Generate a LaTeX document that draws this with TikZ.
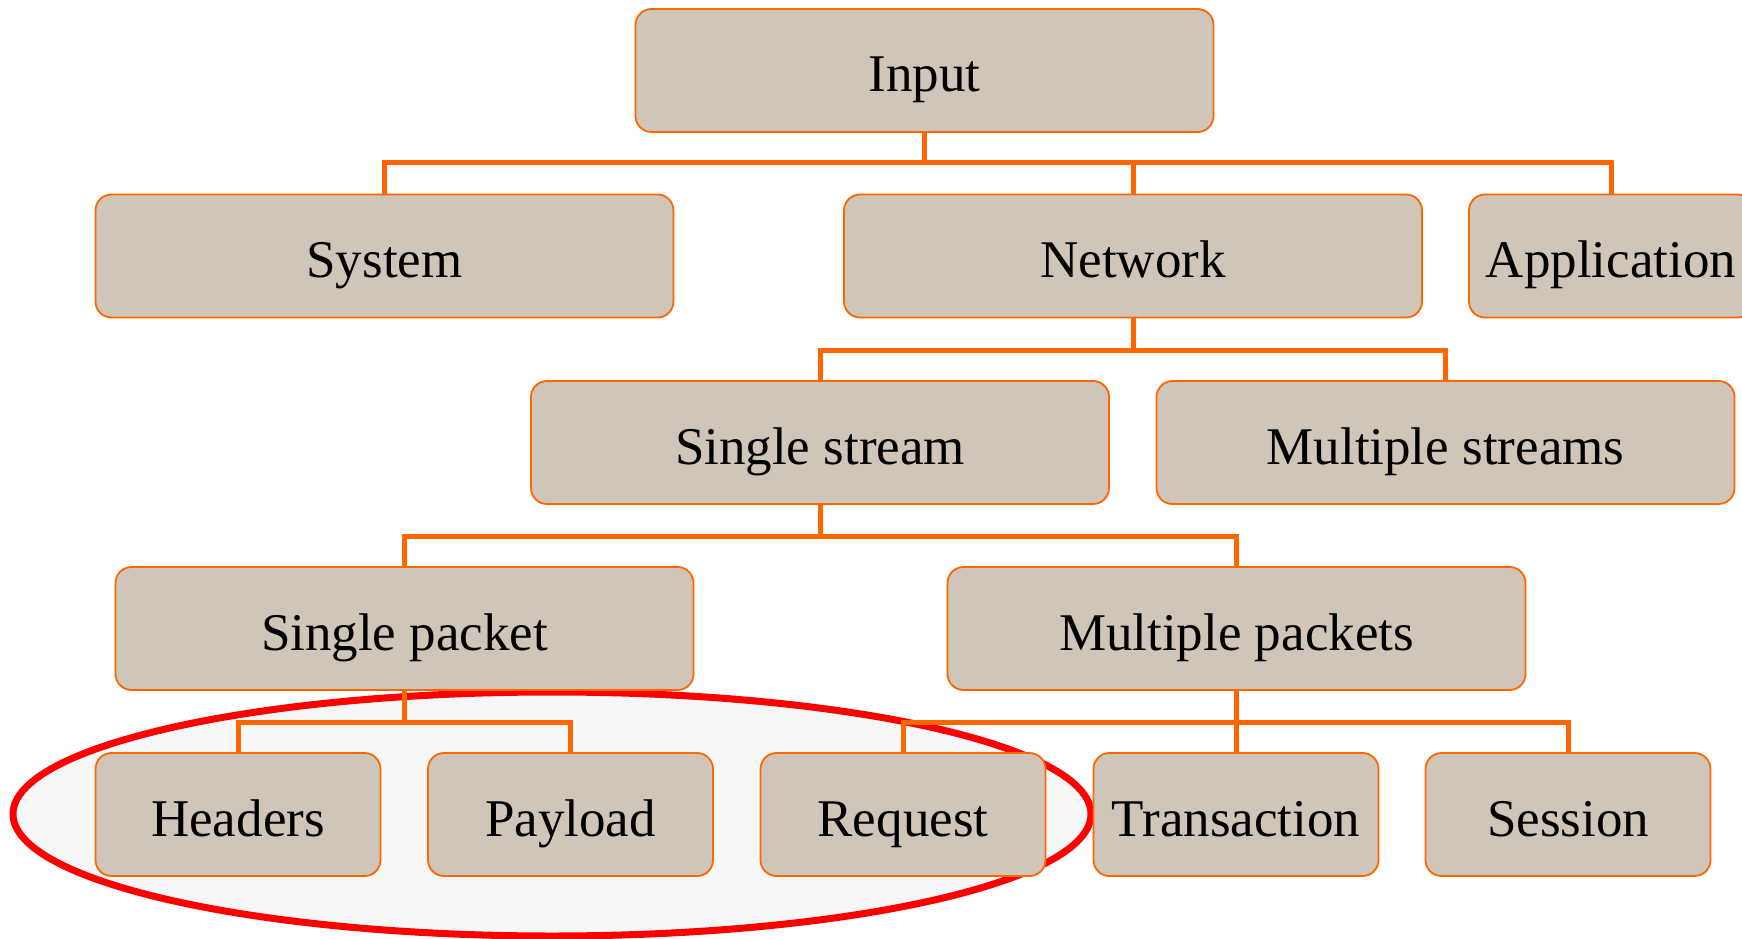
\documentclass[tikz,border=0pt]{standalone}
\usepackage{fontspec}
\setmainfont{Liberation Serif}
\definecolor{boxfill}{HTML}{CFC5B8}
\definecolor{linkorange}{HTML}{FF6600}
\definecolor{haze}{HTML}{F7F7F7}
\tikzset{
  box/.style={draw=linkorange, line width=1.8pt, fill=boxfill, rounded corners=16pt,
    minimum width=578pt, minimum height=123pt, inner sep=0pt,
    font=\fontsize{53}{60}\selectfont, text height=43pt, text depth=0pt},
  small/.style={box, minimum width=285pt},
  link/.style={draw=linkorange, line width=5pt},
  ring/.style={draw=red, line width=7pt, fill=haze}
}
\begin{document}
\begin{tikzpicture}[x=1pt,y=-1pt]
\useasboundingbox (0,0) rectangle (1742,939);

% highlighted group of packet-level inputs
\path[ring] (552,814) ellipse [x radius=539pt, y radius=122pt];

% tree nodes
\node[box] (input) at (924.5,70.5) {Input};
\node[box] (system) at (384.5,256) {System};
\node[box] (network) at (1133,256) {Network};
\node[box, minimum width=284pt] (application) at (1611,256) {Application};
\node[box] (sstream) at (820,442.5) {Single stream};
\node[box] (mstream) at (1445.5,442.5) {Multiple streams};
\node[box] (spacket) at (404.5,628.5) {Single packet};
\node[box] (mpacket) at (1236.5,628.5) {Multiple packets};
\node[small] (headers) at (238,814.5) {Headers};
\node[small] (payload) at (570.5,814.5) {Payload};
\node[small] (request) at (903,814.5) {Request};
\node[small] (transaction) at (1236,814.5) {Transaction};
\node[small] (session) at (1568,814.5) {Session};

% elbow connectors
\foreach \c in {system,network,application}
  \draw[link] (input.south) -- ++(0,30) -| (\c.north);
\foreach \c in {sstream,mstream}
  \draw[link] (network.south) -- ++(0,32) -| (\c.north);
\foreach \c in {spacket,mpacket}
  \draw[link] (sstream.south) -- ++(0,31.5) -| (\c.north);
\foreach \c in {headers,payload}
  \draw[link] (spacket.south) -- ++(0,32) -| (\c.north);
\foreach \c in {request,transaction,session}
  \draw[link] (mpacket.south) -- ++(0,32) -| (\c.north);
\end{tikzpicture}
\end{document}
